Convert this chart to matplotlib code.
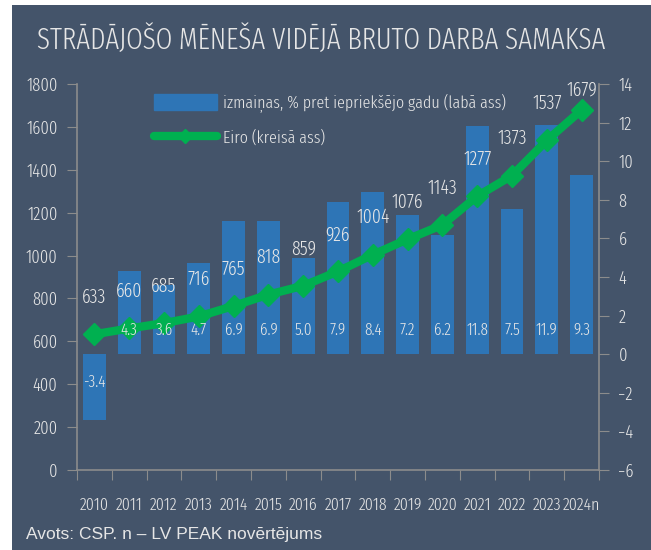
import matplotlib
matplotlib.use("Agg")
import matplotlib.pyplot as plt
from matplotlib.patches import Rectangle
from matplotlib.lines import Line2D

# -----------------------------
# Data
# -----------------------------
years = ["2010", "2011", "2012", "2013", "2014", "2015", "2016", "2017",
         "2018", "2019", "2020", "2021", "2022", "2023", "2024n"]
wage_eur = [633, 660, 685, 716, 765, 818, 859, 926, 1004, 1076, 1143, 1277, 1373, 1537, 1679]
change_pct = [-3.4, 4.3, 3.6, 4.7, 6.9, 6.9, 5.0, 7.9, 8.4, 7.2, 6.2, 11.8, 7.5, 11.9, 9.3]

# -----------------------------
# Style
# -----------------------------
BG = "#44546a"
BAR = "#2e75b6"
LINE = "#00b050"
TXT = "#e6e6e6"
AXC = "#8c8c8c"
plt.rcParams["font.family"] = ["Fira Sans Extra Condensed", "DejaVu Sans"]
plt.rcParams["font.weight"] = 300

fig = plt.figure(figsize=(6.51, 5.5), dpi=100)
fig.patch.set_facecolor("white")
fig.add_artist(Rectangle((12 / 651, 0), 1 - 12 / 651, 1 - 5 / 550,
                         transform=fig.transFigure, facecolor=BG,
                         edgecolor="none", zorder=-10))

ax_l = fig.add_axes([77 / 651, 1 - 470 / 550, (599 - 77) / 651, (470 - 84) / 550])
ax_r = ax_l.twinx()
ax_l.set_zorder(ax_r.get_zorder() + 1)
ax_l.patch.set_visible(False)
ax_r.patch.set_visible(False)

x = list(range(len(years)))

# -----------------------------
# Bars: % change (right axis)
# -----------------------------
ax_r.bar(x, change_pct, width=0.66, color=BAR, zorder=1)
ax_r.set_ylim(-6, 14)
ax_r.set_yticks(range(-6, 15, 2))

# -----------------------------
# Line: EUR (left axis)
# -----------------------------
ax_l.plot(x, wage_eur, color=LINE, lw=6, marker="D", ms=11,
          solid_joinstyle="round", solid_capstyle="round", zorder=3)
ax_l.set_ylim(0, 1800)
ax_l.set_yticks(range(0, 1801, 200))
for i, (xi, v) in enumerate(zip(x, wage_eur)):
    off = 20 if i == len(wage_eur) - 1 else 37
    ax_l.annotate(str(v), (xi, v), xytext=(0, off), textcoords="offset pixels",
                  ha="center", va="center", color=TXT, fontsize=14)

# bar labels drawn on the top axes so they sit above the line
for xi, v in zip(x, change_pct):
    off = 24 if v >= 0 else -28
    ax_l.annotate(f"{v:.1f}", (xi, 0), xycoords=ax_r.transData,
                  xytext=(0, off), textcoords="offset pixels",
                  ha="center", va="center", color=TXT, fontsize=12, zorder=5)

# -----------------------------
# Axes, ticks
# -----------------------------
ax_l.set_xlim(-0.5, len(years) - 0.5)
ax_l.set_xticks([i - 0.5 for i in range(len(years) + 1)])
ax_l.set_xticklabels([])
ax_l.set_xticks(x, minor=True)
ax_l.set_xticklabels(years, minor=True)
ax_l.tick_params(axis="x", which="major", length=7, color=AXC, direction="out")
ax_l.tick_params(axis="x", which="minor", length=0, pad=20, labelsize=12.5, labelcolor=TXT)

for a in (ax_l, ax_r):
    for s in a.spines.values():
        s.set_visible(False)
ax_l.spines["left"].set_visible(True)
ax_l.spines["bottom"].set_visible(True)
ax_r.spines["right"].set_visible(True)
for s in (ax_l.spines["left"], ax_l.spines["bottom"], ax_r.spines["right"]):
    s.set_color(AXC)
    s.set_linewidth(1.2)

ax_l.tick_params(axis="y", length=7, color=AXC, labelcolor=TXT, labelsize=13, pad=7)
ax_r.tick_params(axis="y", length=7, color=AXC, labelcolor=TXT, labelsize=13, pad=7)

# -----------------------------
# Legend
# -----------------------------
handles = [Rectangle((0, 0), 1, 1, color=BAR),
           Line2D([], [], color=LINE, lw=6, marker="D", ms=7, solid_capstyle="round")]
labels = ["izmaiņas, % pret iepriekšējo gadu (labā ass)", "Eiro (kreisā ass)"]
ax_l.legend(handles, labels, loc="upper left", bbox_to_anchor=(0.118, 1.015),
            frameon=False, fontsize=12.5, labelcolor=TXT, handlelength=3.6,
            handleheight=1.0, handletextpad=0.35, labelspacing=0.95)

# -----------------------------
# Title and source
# -----------------------------
fig.text(0.493, 1 - 40 / 550, "STRĀDĀJOŠO MĒNEŠA VIDĒJĀ BRUTO DARBA SAMAKSA",
         ha="center", va="center", color=TXT, fontsize=21)
fig.text(26 / 651, 1 - 534 / 550, "Avots: CSP. n – LV PEAK novērtējums",
         ha="left", va="center", color=TXT, fontsize=12.5,
         family="Liberation Sans", weight="normal")

fig.savefig("out.png", dpi=100, facecolor=fig.get_facecolor())
